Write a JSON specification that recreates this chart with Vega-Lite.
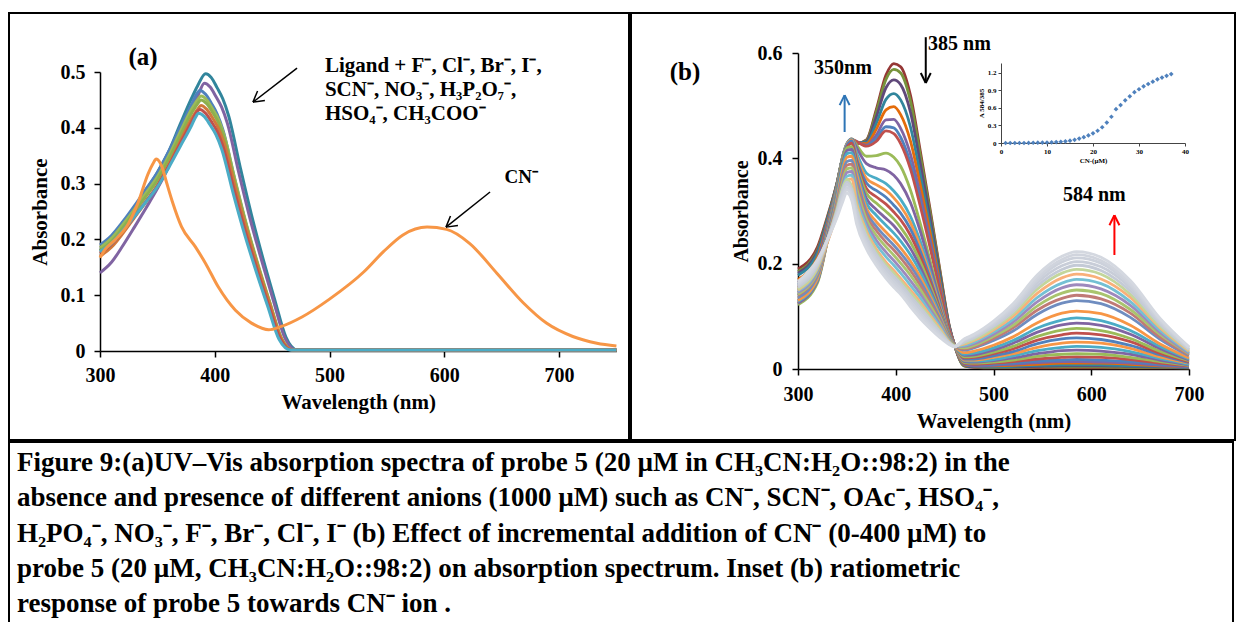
{
"$schema":"https://vega.github.io/schema/vega-lite/v6.json",
"background":"white",
"padding":{"left":8,"top":12,"right":0,"bottom":0},
"spacing":0,
"config":{"view":{"stroke":"black","strokeWidth":2},
"axis":{"grid":false,"labelFont":"Liberation Serif","titleFont":"Liberation Serif","labelColor":"black","titleColor":"black","domainColor":"black","tickColor":"black","labelFontWeight":"bold","titleFontWeight":"bold","labelFlush":false,"labelOverlap":false,"domainWidth":1.5,"tickWidth":1.5},
"text":{"font":"Liberation Serif","fontWeight":"bold","color":"black"}},
"resolve":{"scale":{"x":"independent","y":"independent","color":"independent"}},
"datasets":{
"pa":[
{"k":0,"w":300,"a":0.18},{"k":0,"w":310,"a":0.198},{"k":0,"w":320,"a":0.226},{"k":0,"w":330,"a":0.256},{"k":0,"w":340,"a":0.288},{"k":0,"w":350,"a":0.32},{"k":0,"w":360,"a":0.358},{"k":0,"w":370,"a":0.407},{"k":0,"w":380,"a":0.454},{"k":0,"w":385,"a":0.475},{"k":0,"w":392,"a":0.497},{"k":0,"w":397,"a":0.49},{"k":0,"w":402,"a":0.472},{"k":0,"w":407,"a":0.452},{"k":0,"w":412,"a":0.422},{"k":0,"w":422,"a":0.331},{"k":0,"w":432,"a":0.244},{"k":0,"w":442,"a":0.166},{"k":0,"w":452,"a":0.094},{"k":0,"w":462,"a":0.025},{"k":0,"w":472,"a":0.002},{"k":0,"w":500,"a":0.002},{"k":0,"w":600,"a":0.002},{"k":0,"w":750,"a":0.002},
{"k":1,"w":300,"a":0.14},{"k":1,"w":310,"a":0.159},{"k":1,"w":320,"a":0.189},{"k":1,"w":330,"a":0.222},{"k":1,"w":340,"a":0.256},{"k":1,"w":350,"a":0.291},{"k":1,"w":360,"a":0.331},{"k":1,"w":370,"a":0.383},{"k":1,"w":380,"a":0.434},{"k":1,"w":385,"a":0.456},{"k":1,"w":391,"a":0.48},{"k":1,"w":396,"a":0.473},{"k":1,"w":401,"a":0.456},{"k":1,"w":406,"a":0.437},{"k":1,"w":411,"a":0.408},{"k":1,"w":421,"a":0.319},{"k":1,"w":431,"a":0.235},{"k":1,"w":441,"a":0.161},{"k":1,"w":451,"a":0.091},{"k":1,"w":461,"a":0.024},{"k":1,"w":471,"a":0.002},{"k":1,"w":500,"a":0.002},{"k":1,"w":600,"a":0.002},{"k":1,"w":750,"a":0.002},
{"k":2,"w":300,"a":0.19},{"k":2,"w":310,"a":0.207},{"k":2,"w":320,"a":0.232},{"k":2,"w":330,"a":0.26},{"k":2,"w":340,"a":0.29},{"k":2,"w":350,"a":0.32},{"k":2,"w":360,"a":0.358},{"k":2,"w":370,"a":0.401},{"k":2,"w":380,"a":0.443},{"k":2,"w":384,"a":0.46},{"k":2,"w":387,"a":0.467},{"k":2,"w":392,"a":0.46},{"k":2,"w":397,"a":0.444},{"k":2,"w":402,"a":0.425},{"k":2,"w":407,"a":0.397},{"k":2,"w":417,"a":0.311},{"k":2,"w":427,"a":0.229},{"k":2,"w":437,"a":0.156},{"k":2,"w":447,"a":0.089},{"k":2,"w":457,"a":0.023},{"k":2,"w":467,"a":0.002},{"k":2,"w":500,"a":0.002},{"k":2,"w":600,"a":0.002},{"k":2,"w":750,"a":0.002},
{"k":3,"w":300,"a":0.185},{"k":3,"w":310,"a":0.202},{"k":3,"w":320,"a":0.227},{"k":3,"w":330,"a":0.254},{"k":3,"w":340,"a":0.283},{"k":3,"w":350,"a":0.312},{"k":3,"w":360,"a":0.35},{"k":3,"w":370,"a":0.393},{"k":3,"w":380,"a":0.434},{"k":3,"w":385,"a":0.45},{"k":3,"w":388,"a":0.457},{"k":3,"w":393,"a":0.45},{"k":3,"w":398,"a":0.434},{"k":3,"w":403,"a":0.416},{"k":3,"w":408,"a":0.388},{"k":3,"w":418,"a":0.304},{"k":3,"w":428,"a":0.224},{"k":3,"w":438,"a":0.153},{"k":3,"w":448,"a":0.087},{"k":3,"w":458,"a":0.023},{"k":3,"w":468,"a":0.002},{"k":3,"w":500,"a":0.002},{"k":3,"w":600,"a":0.002},{"k":3,"w":750,"a":0.002},
{"k":4,"w":300,"a":0.18},{"k":4,"w":310,"a":0.196},{"k":4,"w":320,"a":0.221},{"k":4,"w":330,"a":0.249},{"k":4,"w":340,"a":0.277},{"k":4,"w":350,"a":0.306},{"k":4,"w":360,"a":0.344},{"k":4,"w":370,"a":0.386},{"k":4,"w":380,"a":0.427},{"k":4,"w":385,"a":0.443},{"k":4,"w":388,"a":0.45},{"k":4,"w":393,"a":0.443},{"k":4,"w":398,"a":0.428},{"k":4,"w":403,"a":0.41},{"k":4,"w":408,"a":0.383},{"k":4,"w":418,"a":0.299},{"k":4,"w":428,"a":0.221},{"k":4,"w":438,"a":0.151},{"k":4,"w":448,"a":0.086},{"k":4,"w":458,"a":0.023},{"k":4,"w":468,"a":0.002},{"k":4,"w":500,"a":0.002},{"k":4,"w":600,"a":0.002},{"k":4,"w":750,"a":0.002},
{"k":5,"w":300,"a":0.17},{"k":5,"w":310,"a":0.186},{"k":5,"w":320,"a":0.211},{"k":5,"w":330,"a":0.239},{"k":5,"w":340,"a":0.267},{"k":5,"w":350,"a":0.296},{"k":5,"w":360,"a":0.334},{"k":5,"w":370,"a":0.376},{"k":5,"w":380,"a":0.417},{"k":5,"w":385,"a":0.433},{"k":5,"w":388,"a":0.44},{"k":5,"w":393,"a":0.433},{"k":5,"w":398,"a":0.418},{"k":5,"w":403,"a":0.4},{"k":5,"w":408,"a":0.374},{"k":5,"w":418,"a":0.293},{"k":5,"w":428,"a":0.216},{"k":5,"w":438,"a":0.147},{"k":5,"w":448,"a":0.084},{"k":5,"w":458,"a":0.022},{"k":5,"w":468,"a":0.002},{"k":5,"w":500,"a":0.002},{"k":5,"w":600,"a":0.002},{"k":5,"w":750,"a":0.002},
{"k":6,"w":300,"a":0.175},{"k":6,"w":310,"a":0.191},{"k":6,"w":320,"a":0.214},{"k":6,"w":330,"a":0.241},{"k":6,"w":340,"a":0.268},{"k":6,"w":350,"a":0.296},{"k":6,"w":360,"a":0.332},{"k":6,"w":370,"a":0.372},{"k":6,"w":380,"a":0.411},{"k":6,"w":384,"a":0.427},{"k":6,"w":387,"a":0.433},{"k":6,"w":392,"a":0.426},{"k":6,"w":397,"a":0.411},{"k":6,"w":402,"a":0.394},{"k":6,"w":407,"a":0.368},{"k":6,"w":417,"a":0.288},{"k":6,"w":427,"a":0.212},{"k":6,"w":437,"a":0.145},{"k":6,"w":447,"a":0.082},{"k":6,"w":457,"a":0.022},{"k":6,"w":467,"a":0.002},{"k":6,"w":500,"a":0.002},{"k":6,"w":600,"a":0.002},{"k":6,"w":750,"a":0.002},
{"k":7,"w":300,"a":0.178},{"k":7,"w":310,"a":0.193},{"k":7,"w":320,"a":0.216},{"k":7,"w":330,"a":0.241},{"k":7,"w":340,"a":0.267},{"k":7,"w":350,"a":0.294},{"k":7,"w":360,"a":0.329},{"k":7,"w":370,"a":0.367},{"k":7,"w":380,"a":0.405},{"k":7,"w":383,"a":0.418},{"k":7,"w":386,"a":0.426},{"k":7,"w":391,"a":0.42},{"k":7,"w":396,"a":0.405},{"k":7,"w":401,"a":0.388},{"k":7,"w":406,"a":0.362},{"k":7,"w":416,"a":0.283},{"k":7,"w":426,"a":0.209},{"k":7,"w":436,"a":0.143},{"k":7,"w":446,"a":0.081},{"k":7,"w":456,"a":0.021},{"k":7,"w":466,"a":0.002},{"k":7,"w":500,"a":0.002},{"k":7,"w":600,"a":0.002},{"k":7,"w":750,"a":0.002},
{"k":8,"w":300,"a":0.167},{"k":8,"w":304,"a":0.181},{"k":8,"w":313,"a":0.199},{"k":8,"w":325,"a":0.229},{"k":8,"w":333,"a":0.265},{"k":8,"w":342,"a":0.318},{"k":8,"w":346,"a":0.335},{"k":8,"w":349,"a":0.344},{"k":8,"w":354,"a":0.33},{"k":8,"w":358,"a":0.302},{"k":8,"w":363,"a":0.268},{"k":8,"w":371,"a":0.223},{"k":8,"w":383,"a":0.187},{"k":8,"w":392,"a":0.157},{"k":8,"w":403,"a":0.115},{"k":8,"w":418,"a":0.073},{"k":8,"w":432,"a":0.05},{"k":8,"w":447,"a":0.038},{"k":8,"w":458,"a":0.044},{"k":8,"w":476,"a":0.061},{"k":8,"w":500,"a":0.093},{"k":8,"w":530,"a":0.142},{"k":8,"w":547,"a":0.178},{"k":8,"w":564,"a":0.208},{"k":8,"w":585,"a":0.222},{"k":8,"w":602,"a":0.218},{"k":8,"w":622,"a":0.193},{"k":8,"w":646,"a":0.139},{"k":8,"w":669,"a":0.086},{"k":8,"w":689,"a":0.05},{"k":8,"w":712,"a":0.026},{"k":8,"w":733,"a":0.014},{"k":8,"w":750,"a":0.009}
],
"pb":[
{"k":0,"w":300,"a":0.19},{"k":0,"w":320,"a":0.232},{"k":0,"w":330,"a":0.289},{"k":0,"w":340,"a":0.354},{"k":0,"w":345,"a":0.395},{"k":0,"w":350,"a":0.42},{"k":0,"w":355,"a":0.43},{"k":0,"w":360,"a":0.428},{"k":0,"w":370,"a":0.435},{"k":0,"w":380,"a":0.492},{"k":0,"w":390,"a":0.558},{"k":0,"w":398,"a":0.58},{"k":0,"w":405,"a":0.574},{"k":0,"w":415,"a":0.52},{"k":0,"w":425,"a":0.415},{"k":0,"w":435,"a":0.305},{"k":0,"w":445,"a":0.19},{"k":0,"w":455,"a":0.08},{"k":0,"w":460,"a":0.046},{"k":0,"w":470,"a":0.006},{"k":0,"w":480,"a":0.003},{"k":0,"w":500,"a":0.002},{"k":0,"w":520,"a":0.002},{"k":0,"w":545,"a":0.002},{"k":0,"w":570,"a":0.002},{"k":0,"w":585,"a":0.002},{"k":0,"w":610,"a":0.002},{"k":0,"w":640,"a":0.002},{"k":0,"w":670,"a":0.002},{"k":0,"w":700,"a":0.002},
{"k":1,"w":300,"a":0.185},{"k":1,"w":320,"a":0.227},{"k":1,"w":330,"a":0.286},{"k":1,"w":340,"a":0.354},{"k":1,"w":345,"a":0.396},{"k":1,"w":350,"a":0.421},{"k":1,"w":355,"a":0.431},{"k":1,"w":360,"a":0.428},{"k":1,"w":370,"a":0.434},{"k":1,"w":380,"a":0.487},{"k":1,"w":390,"a":0.55},{"k":1,"w":398,"a":0.569},{"k":1,"w":405,"a":0.562},{"k":1,"w":415,"a":0.509},{"k":1,"w":425,"a":0.407},{"k":1,"w":435,"a":0.299},{"k":1,"w":445,"a":0.187},{"k":1,"w":455,"a":0.079},{"k":1,"w":460,"a":0.046},{"k":1,"w":470,"a":0.006},{"k":1,"w":480,"a":0.004},{"k":1,"w":500,"a":0.003},{"k":1,"w":520,"a":0.003},{"k":1,"w":545,"a":0.004},{"k":1,"w":570,"a":0.004},{"k":1,"w":585,"a":0.004},{"k":1,"w":610,"a":0.004},{"k":1,"w":640,"a":0.003},{"k":1,"w":670,"a":0.003},{"k":1,"w":700,"a":0.002},
{"k":2,"w":300,"a":0.182},{"k":2,"w":320,"a":0.224},{"k":2,"w":330,"a":0.284},{"k":2,"w":340,"a":0.353},{"k":2,"w":345,"a":0.396},{"k":2,"w":350,"a":0.422},{"k":2,"w":355,"a":0.432},{"k":2,"w":360,"a":0.429},{"k":2,"w":370,"a":0.432},{"k":2,"w":380,"a":0.478},{"k":2,"w":390,"a":0.534},{"k":2,"w":398,"a":0.549},{"k":2,"w":405,"a":0.54},{"k":2,"w":415,"a":0.488},{"k":2,"w":425,"a":0.391},{"k":2,"w":435,"a":0.288},{"k":2,"w":445,"a":0.181},{"k":2,"w":455,"a":0.078},{"k":2,"w":460,"a":0.046},{"k":2,"w":470,"a":0.007},{"k":2,"w":480,"a":0.004},{"k":2,"w":500,"a":0.004},{"k":2,"w":520,"a":0.004},{"k":2,"w":545,"a":0.005},{"k":2,"w":570,"a":0.006},{"k":2,"w":585,"a":0.006},{"k":2,"w":610,"a":0.006},{"k":2,"w":640,"a":0.005},{"k":2,"w":670,"a":0.004},{"k":2,"w":700,"a":0.003},
{"k":3,"w":300,"a":0.178},{"k":3,"w":320,"a":0.22},{"k":3,"w":330,"a":0.282},{"k":3,"w":340,"a":0.352},{"k":3,"w":345,"a":0.396},{"k":3,"w":350,"a":0.423},{"k":3,"w":355,"a":0.433},{"k":3,"w":360,"a":0.43},{"k":3,"w":370,"a":0.43},{"k":3,"w":380,"a":0.466},{"k":3,"w":390,"a":0.512},{"k":3,"w":398,"a":0.523},{"k":3,"w":405,"a":0.511},{"k":3,"w":415,"a":0.46},{"k":3,"w":425,"a":0.37},{"k":3,"w":435,"a":0.274},{"k":3,"w":445,"a":0.173},{"k":3,"w":455,"a":0.077},{"k":3,"w":460,"a":0.046},{"k":3,"w":470,"a":0.007},{"k":3,"w":480,"a":0.005},{"k":3,"w":500,"a":0.004},{"k":3,"w":520,"a":0.005},{"k":3,"w":545,"a":0.007},{"k":3,"w":570,"a":0.008},{"k":3,"w":585,"a":0.008},{"k":3,"w":610,"a":0.008},{"k":3,"w":640,"a":0.006},{"k":3,"w":670,"a":0.005},{"k":3,"w":700,"a":0.003},
{"k":4,"w":300,"a":0.17},{"k":4,"w":320,"a":0.212},{"k":4,"w":330,"a":0.276},{"k":4,"w":340,"a":0.35},{"k":4,"w":345,"a":0.396},{"k":4,"w":350,"a":0.424},{"k":4,"w":355,"a":0.434},{"k":4,"w":360,"a":0.43},{"k":4,"w":370,"a":0.428},{"k":4,"w":380,"a":0.455},{"k":4,"w":390,"a":0.492},{"k":4,"w":398,"a":0.498},{"k":4,"w":405,"a":0.483},{"k":4,"w":415,"a":0.433},{"k":4,"w":425,"a":0.35},{"k":4,"w":435,"a":0.26},{"k":4,"w":445,"a":0.165},{"k":4,"w":455,"a":0.075},{"k":4,"w":460,"a":0.046},{"k":4,"w":470,"a":0.008},{"k":4,"w":480,"a":0.006},{"k":4,"w":500,"a":0.006},{"k":4,"w":520,"a":0.007},{"k":4,"w":545,"a":0.009},{"k":4,"w":570,"a":0.011},{"k":4,"w":585,"a":0.011},{"k":4,"w":610,"a":0.011},{"k":4,"w":640,"a":0.009},{"k":4,"w":670,"a":0.006},{"k":4,"w":700,"a":0.004},
{"k":5,"w":300,"a":0.165},{"k":5,"w":320,"a":0.207},{"k":5,"w":330,"a":0.273},{"k":5,"w":340,"a":0.349},{"k":5,"w":345,"a":0.396},{"k":5,"w":350,"a":0.424},{"k":5,"w":355,"a":0.435},{"k":5,"w":360,"a":0.431},{"k":5,"w":370,"a":0.425},{"k":5,"w":380,"a":0.444},{"k":5,"w":390,"a":0.473},{"k":5,"w":398,"a":0.474},{"k":5,"w":405,"a":0.457},{"k":5,"w":415,"a":0.408},{"k":5,"w":425,"a":0.331},{"k":5,"w":435,"a":0.247},{"k":5,"w":445,"a":0.158},{"k":5,"w":455,"a":0.074},{"k":5,"w":460,"a":0.046},{"k":5,"w":470,"a":0.009},{"k":5,"w":480,"a":0.006},{"k":5,"w":500,"a":0.007},{"k":5,"w":520,"a":0.009},{"k":5,"w":545,"a":0.012},{"k":5,"w":570,"a":0.014},{"k":5,"w":585,"a":0.014},{"k":5,"w":610,"a":0.013},{"k":5,"w":640,"a":0.011},{"k":5,"w":670,"a":0.007},{"k":5,"w":700,"a":0.004},
{"k":6,"w":300,"a":0.16},{"k":6,"w":320,"a":0.202},{"k":6,"w":330,"a":0.27},{"k":6,"w":340,"a":0.348},{"k":6,"w":345,"a":0.396},{"k":6,"w":350,"a":0.425},{"k":6,"w":355,"a":0.435},{"k":6,"w":360,"a":0.432},{"k":6,"w":370,"a":0.424},{"k":6,"w":380,"a":0.437},{"k":6,"w":390,"a":0.46},{"k":6,"w":398,"a":0.458},{"k":6,"w":405,"a":0.44},{"k":6,"w":415,"a":0.391},{"k":6,"w":425,"a":0.318},{"k":6,"w":435,"a":0.238},{"k":6,"w":445,"a":0.153},{"k":6,"w":455,"a":0.073},{"k":6,"w":460,"a":0.046},{"k":6,"w":470,"a":0.01},{"k":6,"w":480,"a":0.008},{"k":6,"w":500,"a":0.009},{"k":6,"w":520,"a":0.011},{"k":6,"w":545,"a":0.015},{"k":6,"w":570,"a":0.017},{"k":6,"w":585,"a":0.018},{"k":6,"w":610,"a":0.017},{"k":6,"w":640,"a":0.014},{"k":6,"w":670,"a":0.009},{"k":6,"w":700,"a":0.005},
{"k":7,"w":300,"a":0.155},{"k":7,"w":320,"a":0.197},{"k":7,"w":330,"a":0.267},{"k":7,"w":340,"a":0.346},{"k":7,"w":345,"a":0.396},{"k":7,"w":350,"a":0.426},{"k":7,"w":355,"a":0.436},{"k":7,"w":360,"a":0.432},{"k":7,"w":370,"a":0.423},{"k":7,"w":380,"a":0.432},{"k":7,"w":390,"a":0.452},{"k":7,"w":398,"a":0.447},{"k":7,"w":405,"a":0.428},{"k":7,"w":415,"a":0.38},{"k":7,"w":425,"a":0.31},{"k":7,"w":435,"a":0.232},{"k":7,"w":445,"a":0.15},{"k":7,"w":455,"a":0.072},{"k":7,"w":460,"a":0.046},{"k":7,"w":470,"a":0.011},{"k":7,"w":480,"a":0.009},{"k":7,"w":500,"a":0.011},{"k":7,"w":520,"a":0.014},{"k":7,"w":545,"a":0.019},{"k":7,"w":570,"a":0.022},{"k":7,"w":585,"a":0.023},{"k":7,"w":610,"a":0.022},{"k":7,"w":640,"a":0.018},{"k":7,"w":670,"a":0.011},{"k":7,"w":700,"a":0.006},
{"k":8,"w":300,"a":0.15},{"k":8,"w":320,"a":0.192},{"k":8,"w":330,"a":0.264},{"k":8,"w":340,"a":0.347},{"k":8,"w":345,"a":0.398},{"k":8,"w":350,"a":0.428},{"k":8,"w":355,"a":0.437},{"k":8,"w":360,"a":0.425},{"k":8,"w":370,"a":0.404},{"k":8,"w":380,"a":0.405},{"k":8,"w":390,"a":0.41},{"k":8,"w":398,"a":0.402},{"k":8,"w":405,"a":0.385},{"k":8,"w":415,"a":0.34},{"k":8,"w":425,"a":0.277},{"k":8,"w":435,"a":0.207},{"k":8,"w":445,"a":0.135},{"k":8,"w":455,"a":0.066},{"k":8,"w":460,"a":0.046},{"k":8,"w":470,"a":0.012},{"k":8,"w":480,"a":0.011},{"k":8,"w":500,"a":0.013},{"k":8,"w":520,"a":0.017},{"k":8,"w":545,"a":0.024},{"k":8,"w":570,"a":0.028},{"k":8,"w":585,"a":0.029},{"k":8,"w":610,"a":0.028},{"k":8,"w":640,"a":0.022},{"k":8,"w":670,"a":0.014},{"k":8,"w":700,"a":0.007},
{"k":9,"w":300,"a":0.145},{"k":9,"w":320,"a":0.187},{"k":9,"w":330,"a":0.261},{"k":9,"w":340,"a":0.345},{"k":9,"w":345,"a":0.398},{"k":9,"w":350,"a":0.428},{"k":9,"w":355,"a":0.437},{"k":9,"w":360,"a":0.42},{"k":9,"w":370,"a":0.39},{"k":9,"w":380,"a":0.382},{"k":9,"w":390,"a":0.378},{"k":9,"w":398,"a":0.368},{"k":9,"w":405,"a":0.352},{"k":9,"w":415,"a":0.316},{"k":9,"w":425,"a":0.262},{"k":9,"w":435,"a":0.198},{"k":9,"w":445,"a":0.13},{"k":9,"w":455,"a":0.064},{"k":9,"w":460,"a":0.046},{"k":9,"w":470,"a":0.014},{"k":9,"w":480,"a":0.013},{"k":9,"w":500,"a":0.016},{"k":9,"w":520,"a":0.021},{"k":9,"w":545,"a":0.029},{"k":9,"w":570,"a":0.035},{"k":9,"w":585,"a":0.036},{"k":9,"w":610,"a":0.034},{"k":9,"w":640,"a":0.028},{"k":9,"w":670,"a":0.017},{"k":9,"w":700,"a":0.008},
{"k":10,"w":300,"a":0.14},{"k":10,"w":320,"a":0.182},{"k":10,"w":330,"a":0.257},{"k":10,"w":340,"a":0.343},{"k":10,"w":345,"a":0.397},{"k":10,"w":350,"a":0.427},{"k":10,"w":355,"a":0.436},{"k":10,"w":360,"a":0.41},{"k":10,"w":370,"a":0.372},{"k":10,"w":380,"a":0.362},{"k":10,"w":390,"a":0.352},{"k":10,"w":398,"a":0.338},{"k":10,"w":405,"a":0.322},{"k":10,"w":415,"a":0.29},{"k":10,"w":425,"a":0.243},{"k":10,"w":435,"a":0.186},{"k":10,"w":445,"a":0.123},{"k":10,"w":455,"a":0.062},{"k":10,"w":460,"a":0.046},{"k":10,"w":470,"a":0.016},{"k":10,"w":480,"a":0.015},{"k":10,"w":500,"a":0.018},{"k":10,"w":520,"a":0.025},{"k":10,"w":545,"a":0.035},{"k":10,"w":570,"a":0.041},{"k":10,"w":585,"a":0.043},{"k":10,"w":610,"a":0.041},{"k":10,"w":640,"a":0.033},{"k":10,"w":670,"a":0.02},{"k":10,"w":700,"a":0.009},
{"k":11,"w":300,"a":0.135},{"k":11,"w":320,"a":0.177},{"k":11,"w":330,"a":0.254},{"k":11,"w":340,"a":0.341},{"k":11,"w":345,"a":0.396},{"k":11,"w":350,"a":0.426},{"k":11,"w":355,"a":0.435},{"k":11,"w":360,"a":0.404},{"k":11,"w":370,"a":0.362},{"k":11,"w":380,"a":0.35},{"k":11,"w":390,"a":0.339},{"k":11,"w":398,"a":0.325},{"k":11,"w":405,"a":0.309},{"k":11,"w":415,"a":0.278},{"k":11,"w":425,"a":0.233},{"k":11,"w":435,"a":0.179},{"k":11,"w":445,"a":0.12},{"k":11,"w":455,"a":0.061},{"k":11,"w":460,"a":0.046},{"k":11,"w":470,"a":0.017},{"k":11,"w":480,"a":0.017},{"k":11,"w":500,"a":0.022},{"k":11,"w":520,"a":0.029},{"k":11,"w":545,"a":0.041},{"k":11,"w":570,"a":0.049},{"k":11,"w":585,"a":0.051},{"k":11,"w":610,"a":0.049},{"k":11,"w":640,"a":0.039},{"k":11,"w":670,"a":0.023},{"k":11,"w":700,"a":0.011},
{"k":12,"w":300,"a":0.13},{"k":12,"w":320,"a":0.172},{"k":12,"w":330,"a":0.25},{"k":12,"w":340,"a":0.339},{"k":12,"w":345,"a":0.394},{"k":12,"w":350,"a":0.424},{"k":12,"w":355,"a":0.433},{"k":12,"w":360,"a":0.399},{"k":12,"w":370,"a":0.353},{"k":12,"w":380,"a":0.339},{"k":12,"w":390,"a":0.326},{"k":12,"w":398,"a":0.311},{"k":12,"w":405,"a":0.296},{"k":12,"w":415,"a":0.266},{"k":12,"w":425,"a":0.224},{"k":12,"w":435,"a":0.173},{"k":12,"w":445,"a":0.116},{"k":12,"w":455,"a":0.061},{"k":12,"w":460,"a":0.046},{"k":12,"w":470,"a":0.019},{"k":12,"w":480,"a":0.019},{"k":12,"w":500,"a":0.025},{"k":12,"w":520,"a":0.033},{"k":12,"w":545,"a":0.048},{"k":12,"w":570,"a":0.057},{"k":12,"w":585,"a":0.059},{"k":12,"w":610,"a":0.056},{"k":12,"w":640,"a":0.045},{"k":12,"w":670,"a":0.027},{"k":12,"w":700,"a":0.012},
{"k":13,"w":300,"a":0.125},{"k":13,"w":320,"a":0.167},{"k":13,"w":330,"a":0.245},{"k":13,"w":340,"a":0.334},{"k":13,"w":345,"a":0.39},{"k":13,"w":350,"a":0.42},{"k":13,"w":355,"a":0.429},{"k":13,"w":360,"a":0.393},{"k":13,"w":370,"a":0.343},{"k":13,"w":380,"a":0.327},{"k":13,"w":390,"a":0.313},{"k":13,"w":398,"a":0.298},{"k":13,"w":405,"a":0.283},{"k":13,"w":415,"a":0.254},{"k":13,"w":425,"a":0.214},{"k":13,"w":435,"a":0.166},{"k":13,"w":445,"a":0.113},{"k":13,"w":455,"a":0.06},{"k":13,"w":460,"a":0.046},{"k":13,"w":470,"a":0.021},{"k":13,"w":480,"a":0.022},{"k":13,"w":500,"a":0.029},{"k":13,"w":520,"a":0.038},{"k":13,"w":545,"a":0.055},{"k":13,"w":570,"a":0.065},{"k":13,"w":585,"a":0.068},{"k":13,"w":610,"a":0.065},{"k":13,"w":640,"a":0.052},{"k":13,"w":670,"a":0.03},{"k":13,"w":700,"a":0.014},
{"k":14,"w":300,"a":0.122},{"k":14,"w":320,"a":0.164},{"k":14,"w":330,"a":0.243},{"k":14,"w":340,"a":0.334},{"k":14,"w":345,"a":0.391},{"k":14,"w":350,"a":0.42},{"k":14,"w":355,"a":0.422},{"k":14,"w":360,"a":0.387},{"k":14,"w":370,"a":0.334},{"k":14,"w":380,"a":0.315},{"k":14,"w":390,"a":0.299},{"k":14,"w":398,"a":0.285},{"k":14,"w":405,"a":0.269},{"k":14,"w":415,"a":0.241},{"k":14,"w":425,"a":0.204},{"k":14,"w":435,"a":0.159},{"k":14,"w":445,"a":0.11},{"k":14,"w":455,"a":0.06},{"k":14,"w":460,"a":0.045},{"k":14,"w":470,"a":0.023},{"k":14,"w":480,"a":0.024},{"k":14,"w":500,"a":0.032},{"k":14,"w":520,"a":0.043},{"k":14,"w":545,"a":0.062},{"k":14,"w":570,"a":0.074},{"k":14,"w":585,"a":0.077},{"k":14,"w":610,"a":0.073},{"k":14,"w":640,"a":0.058},{"k":14,"w":670,"a":0.034},{"k":14,"w":700,"a":0.016},
{"k":15,"w":300,"a":0.125},{"k":15,"w":320,"a":0.167},{"k":15,"w":330,"a":0.244},{"k":15,"w":340,"a":0.331},{"k":15,"w":345,"a":0.386},{"k":15,"w":350,"a":0.415},{"k":15,"w":355,"a":0.417},{"k":15,"w":360,"a":0.381},{"k":15,"w":370,"a":0.324},{"k":15,"w":380,"a":0.303},{"k":15,"w":390,"a":0.286},{"k":15,"w":398,"a":0.272},{"k":15,"w":405,"a":0.256},{"k":15,"w":415,"a":0.229},{"k":15,"w":425,"a":0.194},{"k":15,"w":435,"a":0.152},{"k":15,"w":445,"a":0.107},{"k":15,"w":455,"a":0.059},{"k":15,"w":460,"a":0.045},{"k":15,"w":470,"a":0.026},{"k":15,"w":480,"a":0.027},{"k":15,"w":500,"a":0.036},{"k":15,"w":520,"a":0.049},{"k":15,"w":545,"a":0.07},{"k":15,"w":570,"a":0.084},{"k":15,"w":585,"a":0.087},{"k":15,"w":610,"a":0.083},{"k":15,"w":640,"a":0.066},{"k":15,"w":670,"a":0.039},{"k":15,"w":700,"a":0.017},
{"k":16,"w":300,"a":0.128},{"k":16,"w":320,"a":0.17},{"k":16,"w":330,"a":0.244},{"k":16,"w":340,"a":0.328},{"k":16,"w":345,"a":0.38},{"k":16,"w":350,"a":0.409},{"k":16,"w":355,"a":0.411},{"k":16,"w":360,"a":0.376},{"k":16,"w":370,"a":0.315},{"k":16,"w":380,"a":0.292},{"k":16,"w":390,"a":0.273},{"k":16,"w":398,"a":0.258},{"k":16,"w":405,"a":0.243},{"k":16,"w":415,"a":0.217},{"k":16,"w":425,"a":0.185},{"k":16,"w":435,"a":0.146},{"k":16,"w":445,"a":0.103},{"k":16,"w":455,"a":0.059},{"k":16,"w":460,"a":0.045},{"k":16,"w":470,"a":0.028},{"k":16,"w":480,"a":0.03},{"k":16,"w":500,"a":0.04},{"k":16,"w":520,"a":0.054},{"k":16,"w":545,"a":0.078},{"k":16,"w":570,"a":0.093},{"k":16,"w":585,"a":0.097},{"k":16,"w":610,"a":0.092},{"k":16,"w":640,"a":0.073},{"k":16,"w":670,"a":0.043},{"k":16,"w":700,"a":0.019},
{"k":17,"w":300,"a":0.13},{"k":17,"w":320,"a":0.172},{"k":17,"w":330,"a":0.242},{"k":17,"w":340,"a":0.323},{"k":17,"w":345,"a":0.373},{"k":17,"w":350,"a":0.402},{"k":17,"w":355,"a":0.404},{"k":17,"w":360,"a":0.37},{"k":17,"w":370,"a":0.305},{"k":17,"w":380,"a":0.28},{"k":17,"w":390,"a":0.26},{"k":17,"w":398,"a":0.245},{"k":17,"w":405,"a":0.23},{"k":17,"w":415,"a":0.205},{"k":17,"w":425,"a":0.175},{"k":17,"w":435,"a":0.139},{"k":17,"w":445,"a":0.1},{"k":17,"w":455,"a":0.058},{"k":17,"w":460,"a":0.045},{"k":17,"w":470,"a":0.031},{"k":17,"w":480,"a":0.034},{"k":17,"w":500,"a":0.045},{"k":17,"w":520,"a":0.061},{"k":17,"w":545,"a":0.088},{"k":17,"w":570,"a":0.106},{"k":17,"w":585,"a":0.11},{"k":17,"w":610,"a":0.105},{"k":17,"w":640,"a":0.083},{"k":17,"w":670,"a":0.048},{"k":17,"w":700,"a":0.021},
{"k":18,"w":300,"a":0.135},{"k":18,"w":320,"a":0.177},{"k":18,"w":330,"a":0.243},{"k":18,"w":340,"a":0.318},{"k":18,"w":345,"a":0.365},{"k":18,"w":350,"a":0.394},{"k":18,"w":355,"a":0.396},{"k":18,"w":360,"a":0.361},{"k":18,"w":370,"a":0.298},{"k":18,"w":380,"a":0.271},{"k":18,"w":390,"a":0.25},{"k":18,"w":398,"a":0.235},{"k":18,"w":405,"a":0.22},{"k":18,"w":415,"a":0.196},{"k":18,"w":425,"a":0.167},{"k":18,"w":435,"a":0.133},{"k":18,"w":445,"a":0.096},{"k":18,"w":455,"a":0.057},{"k":18,"w":460,"a":0.045},{"k":18,"w":470,"a":0.036},{"k":18,"w":480,"a":0.04},{"k":18,"w":500,"a":0.054},{"k":18,"w":520,"a":0.072},{"k":18,"w":545,"a":0.104},{"k":18,"w":570,"a":0.125},{"k":18,"w":585,"a":0.13},{"k":18,"w":610,"a":0.124},{"k":18,"w":640,"a":0.098},{"k":18,"w":670,"a":0.057},{"k":18,"w":700,"a":0.025},
{"k":19,"w":300,"a":0.14},{"k":19,"w":320,"a":0.182},{"k":19,"w":330,"a":0.244},{"k":19,"w":340,"a":0.314},{"k":19,"w":345,"a":0.358},{"k":19,"w":350,"a":0.387},{"k":19,"w":355,"a":0.389},{"k":19,"w":360,"a":0.352},{"k":19,"w":370,"a":0.291},{"k":19,"w":380,"a":0.263},{"k":19,"w":390,"a":0.241},{"k":19,"w":398,"a":0.226},{"k":19,"w":405,"a":0.211},{"k":19,"w":415,"a":0.187},{"k":19,"w":425,"a":0.159},{"k":19,"w":435,"a":0.127},{"k":19,"w":445,"a":0.092},{"k":19,"w":455,"a":0.056},{"k":19,"w":460,"a":0.045},{"k":19,"w":470,"a":0.038},{"k":19,"w":480,"a":0.042},{"k":19,"w":500,"a":0.058},{"k":19,"w":520,"a":0.078},{"k":19,"w":545,"a":0.112},{"k":19,"w":570,"a":0.134},{"k":19,"w":585,"a":0.14},{"k":19,"w":610,"a":0.133},{"k":19,"w":640,"a":0.106},{"k":19,"w":670,"a":0.061},{"k":19,"w":700,"a":0.027},
{"k":20,"w":300,"a":0.142},{"k":20,"w":320,"a":0.184},{"k":20,"w":330,"a":0.242},{"k":20,"w":340,"a":0.309},{"k":20,"w":345,"a":0.351},{"k":20,"w":350,"a":0.38},{"k":20,"w":355,"a":0.382},{"k":20,"w":360,"a":0.343},{"k":20,"w":370,"a":0.284},{"k":20,"w":380,"a":0.254},{"k":20,"w":390,"a":0.232},{"k":20,"w":398,"a":0.216},{"k":20,"w":405,"a":0.201},{"k":20,"w":415,"a":0.178},{"k":20,"w":425,"a":0.151},{"k":20,"w":435,"a":0.121},{"k":20,"w":445,"a":0.089},{"k":20,"w":455,"a":0.055},{"k":20,"w":460,"a":0.045},{"k":20,"w":470,"a":0.04},{"k":20,"w":480,"a":0.045},{"k":20,"w":500,"a":0.062},{"k":20,"w":520,"a":0.083},{"k":20,"w":545,"a":0.12},{"k":20,"w":570,"a":0.144},{"k":20,"w":585,"a":0.15},{"k":20,"w":610,"a":0.143},{"k":20,"w":640,"a":0.113},{"k":20,"w":670,"a":0.066},{"k":20,"w":700,"a":0.029},
{"k":21,"w":300,"a":0.145},{"k":21,"w":320,"a":0.187},{"k":21,"w":330,"a":0.242},{"k":21,"w":340,"a":0.305},{"k":21,"w":345,"a":0.344},{"k":21,"w":350,"a":0.373},{"k":21,"w":355,"a":0.375},{"k":21,"w":360,"a":0.333},{"k":21,"w":370,"a":0.276},{"k":21,"w":380,"a":0.245},{"k":21,"w":390,"a":0.222},{"k":21,"w":398,"a":0.206},{"k":21,"w":405,"a":0.191},{"k":21,"w":415,"a":0.168},{"k":21,"w":425,"a":0.143},{"k":21,"w":435,"a":0.114},{"k":21,"w":445,"a":0.085},{"k":21,"w":455,"a":0.053},{"k":21,"w":460,"a":0.044},{"k":21,"w":470,"a":0.043},{"k":21,"w":480,"a":0.048},{"k":21,"w":500,"a":0.066},{"k":21,"w":520,"a":0.089},{"k":21,"w":545,"a":0.128},{"k":21,"w":570,"a":0.154},{"k":21,"w":585,"a":0.16},{"k":21,"w":610,"a":0.152},{"k":21,"w":640,"a":0.121},{"k":21,"w":670,"a":0.07},{"k":21,"w":700,"a":0.03},
{"k":22,"w":300,"a":0.148},{"k":22,"w":320,"a":0.19},{"k":22,"w":330,"a":0.241},{"k":22,"w":340,"a":0.3},{"k":22,"w":345,"a":0.337},{"k":22,"w":350,"a":0.366},{"k":22,"w":355,"a":0.368},{"k":22,"w":360,"a":0.324},{"k":22,"w":370,"a":0.269},{"k":22,"w":380,"a":0.237},{"k":22,"w":390,"a":0.213},{"k":22,"w":398,"a":0.197},{"k":22,"w":405,"a":0.182},{"k":22,"w":415,"a":0.159},{"k":22,"w":425,"a":0.135},{"k":22,"w":435,"a":0.108},{"k":22,"w":445,"a":0.081},{"k":22,"w":455,"a":0.052},{"k":22,"w":460,"a":0.044},{"k":22,"w":470,"a":0.045},{"k":22,"w":480,"a":0.051},{"k":22,"w":500,"a":0.07},{"k":22,"w":520,"a":0.094},{"k":22,"w":545,"a":0.136},{"k":22,"w":570,"a":0.163},{"k":22,"w":585,"a":0.17},{"k":22,"w":610,"a":0.162},{"k":22,"w":640,"a":0.128},{"k":22,"w":670,"a":0.074},{"k":22,"w":700,"a":0.032},
{"k":23,"w":300,"a":0.15},{"k":23,"w":320,"a":0.192},{"k":23,"w":330,"a":0.24},{"k":23,"w":340,"a":0.296},{"k":23,"w":345,"a":0.33},{"k":23,"w":350,"a":0.359},{"k":23,"w":355,"a":0.361},{"k":23,"w":360,"a":0.315},{"k":23,"w":370,"a":0.262},{"k":23,"w":380,"a":0.228},{"k":23,"w":390,"a":0.203},{"k":23,"w":398,"a":0.187},{"k":23,"w":405,"a":0.172},{"k":23,"w":415,"a":0.15},{"k":23,"w":425,"a":0.127},{"k":23,"w":435,"a":0.102},{"k":23,"w":445,"a":0.077},{"k":23,"w":455,"a":0.051},{"k":23,"w":460,"a":0.044},{"k":23,"w":470,"a":0.047},{"k":23,"w":480,"a":0.054},{"k":23,"w":500,"a":0.074},{"k":23,"w":520,"a":0.1},{"k":23,"w":545,"a":0.144},{"k":23,"w":570,"a":0.173},{"k":23,"w":585,"a":0.18},{"k":23,"w":610,"a":0.171},{"k":23,"w":640,"a":0.136},{"k":23,"w":670,"a":0.079},{"k":23,"w":700,"a":0.034},
{"k":24,"w":300,"a":0.152},{"k":24,"w":320,"a":0.194},{"k":24,"w":330,"a":0.245},{"k":24,"w":340,"a":0.304},{"k":24,"w":345,"a":0.34},{"k":24,"w":350,"a":0.36},{"k":24,"w":355,"a":0.346},{"k":24,"w":360,"a":0.308},{"k":24,"w":370,"a":0.256},{"k":24,"w":380,"a":0.223},{"k":24,"w":390,"a":0.198},{"k":24,"w":398,"a":0.182},{"k":24,"w":405,"a":0.167},{"k":24,"w":415,"a":0.145},{"k":24,"w":425,"a":0.122},{"k":24,"w":435,"a":0.098},{"k":24,"w":445,"a":0.074},{"k":24,"w":455,"a":0.05},{"k":24,"w":460,"a":0.044},{"k":24,"w":470,"a":0.049},{"k":24,"w":480,"a":0.056},{"k":24,"w":500,"a":0.077},{"k":24,"w":520,"a":0.105},{"k":24,"w":545,"a":0.152},{"k":24,"w":570,"a":0.182},{"k":24,"w":585,"a":0.189},{"k":24,"w":610,"a":0.18},{"k":24,"w":640,"a":0.142},{"k":24,"w":670,"a":0.082},{"k":24,"w":700,"a":0.036},
{"k":25,"w":300,"a":0.155},{"k":25,"w":320,"a":0.197},{"k":25,"w":330,"a":0.245},{"k":25,"w":340,"a":0.301},{"k":25,"w":345,"a":0.335},{"k":25,"w":350,"a":0.355},{"k":25,"w":355,"a":0.341},{"k":25,"w":360,"a":0.302},{"k":25,"w":370,"a":0.251},{"k":25,"w":380,"a":0.218},{"k":25,"w":390,"a":0.193},{"k":25,"w":398,"a":0.176},{"k":25,"w":405,"a":0.162},{"k":25,"w":415,"a":0.139},{"k":25,"w":425,"a":0.117},{"k":25,"w":435,"a":0.094},{"k":25,"w":445,"a":0.071},{"k":25,"w":455,"a":0.049},{"k":25,"w":460,"a":0.043},{"k":25,"w":470,"a":0.051},{"k":25,"w":480,"a":0.059},{"k":25,"w":500,"a":0.081},{"k":25,"w":520,"a":0.109},{"k":25,"w":545,"a":0.158},{"k":25,"w":570,"a":0.189},{"k":25,"w":585,"a":0.197},{"k":25,"w":610,"a":0.187},{"k":25,"w":640,"a":0.148},{"k":25,"w":670,"a":0.086},{"k":25,"w":700,"a":0.037},
{"k":26,"w":300,"a":0.158},{"k":26,"w":320,"a":0.2},{"k":26,"w":330,"a":0.246},{"k":26,"w":340,"a":0.298},{"k":26,"w":345,"a":0.33},{"k":26,"w":350,"a":0.35},{"k":26,"w":355,"a":0.336},{"k":26,"w":360,"a":0.295},{"k":26,"w":370,"a":0.245},{"k":26,"w":380,"a":0.213},{"k":26,"w":390,"a":0.188},{"k":26,"w":398,"a":0.171},{"k":26,"w":405,"a":0.157},{"k":26,"w":415,"a":0.134},{"k":26,"w":425,"a":0.112},{"k":26,"w":435,"a":0.09},{"k":26,"w":445,"a":0.069},{"k":26,"w":455,"a":0.049},{"k":26,"w":460,"a":0.043},{"k":26,"w":470,"a":0.053},{"k":26,"w":480,"a":0.061},{"k":26,"w":500,"a":0.083},{"k":26,"w":520,"a":0.113},{"k":26,"w":545,"a":0.164},{"k":26,"w":570,"a":0.196},{"k":26,"w":585,"a":0.204},{"k":26,"w":610,"a":0.194},{"k":26,"w":640,"a":0.154},{"k":26,"w":670,"a":0.089},{"k":26,"w":700,"a":0.038},
{"k":27,"w":300,"a":0.16},{"k":27,"w":320,"a":0.202},{"k":27,"w":330,"a":0.245},{"k":27,"w":340,"a":0.294},{"k":27,"w":345,"a":0.325},{"k":27,"w":350,"a":0.345},{"k":27,"w":355,"a":0.331},{"k":27,"w":360,"a":0.288},{"k":27,"w":370,"a":0.239},{"k":27,"w":380,"a":0.207},{"k":27,"w":390,"a":0.182},{"k":27,"w":398,"a":0.166},{"k":27,"w":405,"a":0.152},{"k":27,"w":415,"a":0.129},{"k":27,"w":425,"a":0.106},{"k":27,"w":435,"a":0.085},{"k":27,"w":445,"a":0.066},{"k":27,"w":455,"a":0.048},{"k":27,"w":460,"a":0.043},{"k":27,"w":470,"a":0.055},{"k":27,"w":480,"a":0.063},{"k":27,"w":500,"a":0.086},{"k":27,"w":520,"a":0.117},{"k":27,"w":545,"a":0.169},{"k":27,"w":570,"a":0.203},{"k":27,"w":585,"a":0.211},{"k":27,"w":610,"a":0.201},{"k":27,"w":640,"a":0.159},{"k":27,"w":670,"a":0.092},{"k":27,"w":700,"a":0.04},
{"k":28,"w":300,"a":0.163},{"k":28,"w":320,"a":0.205},{"k":28,"w":330,"a":0.245},{"k":28,"w":340,"a":0.291},{"k":28,"w":345,"a":0.32},{"k":28,"w":350,"a":0.34},{"k":28,"w":355,"a":0.326},{"k":28,"w":360,"a":0.282},{"k":28,"w":370,"a":0.234},{"k":28,"w":380,"a":0.202},{"k":28,"w":390,"a":0.177},{"k":28,"w":398,"a":0.16},{"k":28,"w":405,"a":0.147},{"k":28,"w":415,"a":0.123},{"k":28,"w":425,"a":0.101},{"k":28,"w":435,"a":0.081},{"k":28,"w":445,"a":0.063},{"k":28,"w":455,"a":0.047},{"k":28,"w":460,"a":0.042},{"k":28,"w":470,"a":0.056},{"k":28,"w":480,"a":0.064},{"k":28,"w":500,"a":0.089},{"k":28,"w":520,"a":0.12},{"k":28,"w":545,"a":0.174},{"k":28,"w":570,"a":0.208},{"k":28,"w":585,"a":0.217},{"k":28,"w":610,"a":0.206},{"k":28,"w":640,"a":0.163},{"k":28,"w":670,"a":0.095},{"k":28,"w":700,"a":0.041},
{"k":29,"w":300,"a":0.166},{"k":29,"w":320,"a":0.208},{"k":29,"w":330,"a":0.245},{"k":29,"w":340,"a":0.288},{"k":29,"w":345,"a":0.314},{"k":29,"w":350,"a":0.334},{"k":29,"w":355,"a":0.32},{"k":29,"w":360,"a":0.275},{"k":29,"w":370,"a":0.228},{"k":29,"w":380,"a":0.197},{"k":29,"w":390,"a":0.172},{"k":29,"w":398,"a":0.155},{"k":29,"w":405,"a":0.142},{"k":29,"w":415,"a":0.118},{"k":29,"w":425,"a":0.096},{"k":29,"w":435,"a":0.077},{"k":29,"w":445,"a":0.06},{"k":29,"w":455,"a":0.046},{"k":29,"w":460,"a":0.042},{"k":29,"w":470,"a":0.057},{"k":29,"w":480,"a":0.066},{"k":29,"w":500,"a":0.091},{"k":29,"w":520,"a":0.124},{"k":29,"w":545,"a":0.179},{"k":29,"w":570,"a":0.214},{"k":29,"w":585,"a":0.223},{"k":29,"w":610,"a":0.212},{"k":29,"w":640,"a":0.168},{"k":29,"w":670,"a":0.097},{"k":29,"w":700,"a":0.042}
],
"inset":[
{"c":1,"r":0},{"c":2,"r":0},{"c":3,"r":0},{"c":4,"r":0},{"c":5,"r":0},{"c":6,"r":0.002},{"c":7,"r":0.004},{"c":8,"r":0.005},{"c":9,"r":0.007},{"c":10,"r":0.009},{"c":11,"r":0.012},{"c":12,"r":0.016},{"c":13,"r":0.021},{"c":14,"r":0.029},{"c":15,"r":0.04},{"c":16,"r":0.055},{"c":17,"r":0.075},{"c":18,"r":0.1},{"c":19,"r":0.13},{"c":20,"r":0.165},{"c":21,"r":0.21},{"c":22,"r":0.27},{"c":23,"r":0.35},{"c":24,"r":0.45},{"c":25,"r":0.58},{"c":26,"r":0.65},{"c":27,"r":0.73},{"c":28,"r":0.8},{"c":29,"r":0.87},{"c":30,"r":0.92},{"c":31,"r":0.97},{"c":32,"r":1.01},{"c":33,"r":1.05},{"c":34,"r":1.09},{"c":35,"r":1.12},{"c":36,"r":1.15},{"c":37,"r":1.18}
]
},
"vconcat":[
{"hconcat":[
{"width":620,"height":427,
"layer":[
{"data":{"name":"pa"},"mark":{"type":"line","interpolate":"monotone","strokeWidth":3},
"encoding":{
"x":{"field":"w","type":"quantitative","scale":{"domain":[300,750],"range":[91,607.4],"nice":false,"zero":false},
"axis":{"orient":"bottom","offset":-89,"values":[300,400,500,600,700],"tickSize":6,"labelPadding":8,"labelFontSize":20,"title":"Wavelength (nm)","titleFontSize":21,"titlePadding":6}},
"y":{"field":"a","type":"quantitative","scale":{"domain":[0,0.5],"range":[338,59],"nice":false,"zero":false},
"axis":{"orient":"left","offset":-91,"values":[0,0.1,0.2,0.3,0.4,0.5],"format":".1~f","tickSize":6,"labelPadding":9,"labelFontSize":20,"title":"Absorbance","titleFontSize":21,"titlePadding":10}},
"color":{"field":"k","type":"nominal","scale":{"domain":[0,1,2,3,4,5,6,7,8],"range":["#31859C","#8064A2","#4F81BD","#9BBB59","#8DB04E","#D07A3A","#C0504D","#4BACC6","#F79646"]},"legend":null}}},
{"data":{"values":[{"w":471.7,"a":0.507,"w2":433.3,"a2":0.446},{"w":433.3,"a":0.446,"w2":443.7,"a2":0.449},{"w":433.3,"a":0.446,"w2":437.3,"a2":0.466},{"w":639.9,"a":0.285,"w2":601.5,"a2":0.222},{"w":601.5,"a":0.222,"w2":611.9,"a2":0.225},{"w":601.5,"a":0.222,"w2":605.4,"a2":0.242}]},
"mark":{"type":"rule","color":"black","strokeWidth":1.5},
"encoding":{"x":{"field":"w","type":"quantitative"},"y":{"field":"a","type":"quantitative"},"x2":{"field":"w2"},"y2":{"field":"a2"}}},
{"data":{"values":[{"w":337.5,"a":0.527,"t":"(a)"}]},"mark":{"type":"text","fontSize":25,"align":"center","baseline":"middle"},
"encoding":{"x":{"field":"w","type":"quantitative"},"y":{"field":"a","type":"quantitative"},"text":{"field":"t"}}},
{"data":{"values":[{"w":496,"a":0.5,"t":"Ligand + F⁻, Cl⁻,  Br⁻,  I⁻,"},{"w":496,"a":0.457,"t":"SCN⁻,  NO₃⁻,  H₃P₂O₇⁻,"},{"w":496,"a":0.414,"t":"HSO₄⁻, CH₃COO⁻"}]},
"mark":{"type":"text","fontSize":21,"align":"left","baseline":"alphabetic"},
"encoding":{"x":{"field":"w","type":"quantitative"},"y":{"field":"a","type":"quantitative"},"text":{"field":"t"}}},
{"data":{"values":[{"w":667,"a":0.312,"t":"CN⁻"}]},"mark":{"type":"text","fontSize":19,"align":"center","baseline":"middle"},
"encoding":{"x":{"field":"w","type":"quantitative"},"y":{"field":"a","type":"quantitative"},"text":{"field":"t"}}}
]},
{"width":604,"height":427,
"layer":[
{"layer":[
{"data":{"name":"pb"},"mark":{"type":"line","interpolate":"monotone","strokeWidth":2.8},
"encoding":{
"x":{"field":"w","type":"quantitative","scale":{"domain":[300,700],"range":[167,558],"nice":false,"zero":false},
"axis":{"orient":"bottom","offset":-71,"values":[300,400,500,600,700],"tickSize":6,"labelPadding":9,"labelFontSize":20,"title":"Wavelength (nm)","titleFontSize":21,"titlePadding":6}},
"y":{"field":"a","type":"quantitative","scale":{"domain":[0,0.6],"range":[356,40],"nice":false,"zero":false},
"axis":{"orient":"left","offset":-167,"values":[0,0.2,0.4,0.6],"format":".1~f","tickSize":6,"labelPadding":10,"labelFontSize":20,"title":"Absorbance","titleFontSize":20,"titlePadding":6}},
"color":{"field":"k","type":"nominal","scale":{"domain":[0,1,2,3,4,5,6,7,8,9,10,11,12,13,14,15,16,17,18,19,20,21,22,23,24,25,26,27,28,29],
"range":["#953735","#77933C","#60497A","#31859C","#E46C0A","#8064A2","#4F81BD","#C0504D","#9BBB59","#8064A2","#4BACC6","#F79646","#4F81BD","#C0504D","#9BBB59","#8064A2","#4BACC6","#F79646","#6F8DC0","#C07A76","#A9C46E","#9E89BD","#74C0D4","#F9B07A","#C3D69B","#C4CAD6","#C8CDD8","#CCD1DB","#D0D4DD","#D4D8E0"]},"legend":null}}},
{"data":{"values":[{"w":347.7,"a":0.45,"w2":347.7,"a2":0.52},{"w":347.7,"a":0.52,"w2":342.6,"a2":0.501},{"w":347.7,"a":0.52,"w2":352.8,"a2":0.501}]},
"mark":{"type":"rule","color":"#2E75B6","strokeWidth":2},
"encoding":{"x":{"field":"w","type":"quantitative"},"y":{"field":"a","type":"quantitative"},"x2":{"field":"w2"},"y2":{"field":"a2"}}},
{"data":{"values":[{"w":430.7,"a":0.63,"w2":430.7,"a2":0.543},{"w":430.7,"a":0.543,"w2":425.6,"a2":0.562},{"w":430.7,"a":0.543,"w2":435.8,"a2":0.562}]},
"mark":{"type":"rule","color":"black","strokeWidth":2},
"encoding":{"x":{"field":"w","type":"quantitative"},"y":{"field":"a","type":"quantitative"},"x2":{"field":"w2"},"y2":{"field":"a2"}}},
{"data":{"values":[{"w":623.7,"a":0.2165,"w2":623.7,"a2":0.292},{"w":623.7,"a":0.292,"w2":618.6,"a2":0.273},{"w":623.7,"a":0.292,"w2":628.8,"a2":0.273}]},
"mark":{"type":"rule","color":"#FF0000","strokeWidth":2},
"encoding":{"x":{"field":"w","type":"quantitative"},"y":{"field":"a","type":"quantitative"},"x2":{"field":"w2"},"y2":{"field":"a2"}}},
{"data":{"values":[{"w":184.4,"a":0.564,"t":"(b)"}]},"mark":{"type":"text","fontSize":25,"align":"center","baseline":"middle"},
"encoding":{"x":{"field":"w","type":"quantitative"},"y":{"field":"a","type":"quantitative"},"text":{"field":"t"}}},
{"data":{"values":[{"w":316.4,"a":0.5715,"t":"350nm"},{"w":433,"a":0.617,"t":"385 nm"},{"w":571,"a":0.33,"t":"584 nm"}]},
"mark":{"type":"text","fontSize":20,"align":"left","baseline":"middle"},
"encoding":{"x":{"field":"w","type":"quantitative"},"y":{"field":"a","type":"quantitative"},"text":{"field":"t"}}}
]},
{"data":{"name":"inset"},"mark":{"type":"point","shape":"diamond","filled":true,"size":22,"color":"#4F81BD","opacity":1},
"encoding":{
"x":{"field":"c","type":"quantitative","scale":{"domain":[0,40],"range":[370,554],"nice":false,"zero":false},
"axis":{"orient":"bottom","offset":-297,"values":[0,10,20,30,40],"tickSize":3,"tickWidth":1,"domainWidth":1,"domainColor":"#444","tickColor":"#444","labelPadding":1,"labelFontSize":7,"title":"CN-(µM)","titleFontSize":7,"titlePadding":2}},
"y":{"field":"r","type":"quantitative","scale":{"domain":[0,1.37],"range":[130,50],"nice":false,"zero":false},
"axis":{"orient":"left","offset":-370,"values":[0,0.3,0.6,0.9,1.2],"format":".1~f","tickSize":3,"tickWidth":1,"domainWidth":1,"domainColor":"#444","tickColor":"#444","labelPadding":2,"labelFontSize":7,"title":"A 584/385","titleFontSize":7,"titlePadding":3}}}}
],
"resolve":{"scale":{"x":"independent","y":"independent"},"axis":{"x":"independent","y":"independent"}}}
],
"spacing":0,
"resolve":{"scale":{"x":"independent","y":"independent","color":"independent"}}},
{"width":1224,"height":182,
"data":{"values":[
{"line":1,"t":"Figure 9:(a)UV–Vis absorption spectra of probe 5 (20 µM in CH₃CN:H₂O::98:2) in the"},
{"line":2,"t":"absence and presence of different anions (1000 µM) such as CN⁻, SCN⁻, OAc⁻, HSO₄⁻,"},
{"line":3,"t":"H₂PO₄⁻, NO₃⁻, F⁻, Br⁻, Cl⁻, I⁻ (b) Effect of incremental addition of CN⁻ (0-400 µM) to"},
{"line":4,"t":"probe 5 (20 µM, CH₃CN:H₂O::98:2) on absorption spectrum. Inset (b) ratiometric"},
{"line":5,"t":"response of probe 5 towards CN⁻ ion ."}]},
"mark":{"type":"text","align":"left","baseline":"alphabetic","fontSize":27},
"encoding":{
"x":{"datum":0,"type":"quantitative","scale":{"domain":[0,1],"range":[8,1224]},"axis":null},
"y":{"field":"line","type":"ordinal","scale":{"type":"point","range":[29,170],"padding":0},"axis":null},
"text":{"field":"t"}}}
]
}
